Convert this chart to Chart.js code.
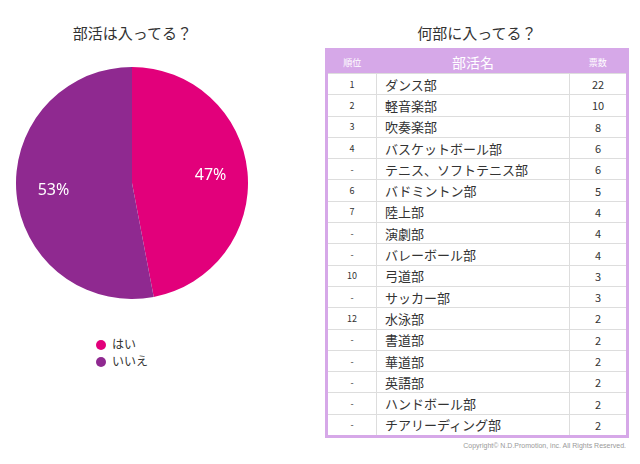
<!DOCTYPE html>
<html>
<head>
<meta charset="utf-8">
<script src="https://cdn.jsdelivr.net/npm/chart.js@4"></script>
<style>
body { margin: 0; width: 640px; height: 464px; background: #fff; font-family: "Noto Sans CJK JP", sans-serif; position: relative; overflow: hidden; }
#pieBox { position: absolute; left: 0; top: 0; width: 265px; height: 400px; }
.title { position: absolute; font-size: 15px; color: #333; text-align: center; }
#legend { position: absolute; left: 96px; top: 335px; font-size: 12px; color: #333; line-height: 17px; }
#legend span.dot { display: inline-block; width: 10px; height: 10px; border-radius: 50%; margin-right: 6px; vertical-align: -1px; }
table { position: absolute; left: 325px; top: 48px; width: 304px; border-collapse: collapse; border: 3px solid #d6a8e8; font-size: 13px; color: #333; }
th { background: #d6a8e8; color: #fff; font-weight: normal; height: 20px; font-size: 9px; }
th.name { font-size: 14px; }
td { border: 1px solid #ddd; height: 20.3px; padding: 0; }
td.rank { text-align: center; width: 48px; font-size: 9px; }
td.name { padding-left: 8px; }
td.votes { text-align: center; width: 56px; font-size: 11px; }
#copy { position: absolute; right: 14px; top: 442px; font-size: 7px; color: #999; font-family: "Liberation Sans", sans-serif; }
</style>
</head>
<body>
<div class="title" style="left:0;top:22px;width:265px;">部活は入ってる？</div>
<div class="title" style="left:325px;top:22px;width:304px;">何部に入ってる？</div>
<div id="pieBox"><canvas id="pie"></canvas></div>
<div id="legend"></div>
<table id="tbl"></table>
<div id="copy">Copyright© N.D.Promotion, inc. All Rights Reserved.</div>
<script>
const pieLabels = ["はい", "いいえ"];
const pieValues = [47, 53];
const pieColors = ["#e2007b", "#8f2990"];

const ranks = ["1", "2", "3", "4", "-", "6", "7", "-", "-", "10", "-", "12", "-", "-", "-", "-", "-"];
const clubs = ["ダンス部", "軽音楽部", "吹奏楽部", "バスケットボール部", "テニス、ソフトテニス部", "バドミントン部", "陸上部", "演劇部", "バレーボール部", "弓道部", "サッカー部", "水泳部", "書道部", "華道部", "英語部", "ハンドボール部", "チアリーディング部"];
const votes = [22, 10, 8, 6, 6, 5, 4, 4, 4, 3, 3, 2, 2, 2, 2, 2, 2];

function buildTable() {
	const table = document.getElementById("tbl");
	let html = "<tr><th>順位</th><th class='name'>部活名</th><th>票数</th></tr>";
	clubs.forEach((club, i) => {
		html += "<tr><td class='rank'>" + ranks[i] + "</td><td class='name'>" + club + "</td><td class='votes'>" + votes[i] + "</td></tr>";
	});
	table.innerHTML = html;
}

function buildLegend() {
	const legend = document.getElementById("legend");
	legend.innerHTML = pieLabels.map((label, i) =>
		"<div><span class='dot' style='background:" + pieColors[i] + "'></span>" + label + "</div>").join("");
}

const percentLabels = {
	id: "percentLabels",
	afterDatasetsDraw(chart) {
		const ctx = chart.ctx;
		const meta = chart.getDatasetMeta(0);
		ctx.save();
		ctx.fillStyle = "#fff";
		ctx.font = "16px 'Noto Sans', sans-serif";
		ctx.textAlign = "center";
		ctx.textBaseline = "middle";
		meta.data.forEach((arc, i) => {
			const mid = (arc.startAngle + arc.endAngle) / 2;
			const r = arc.outerRadius * 0.68;
			ctx.fillText(pieValues[i] + "%", arc.x + Math.cos(mid) * r, arc.y + Math.sin(mid) * r);
		});
		ctx.restore();
	}
};

function drawPie() {
	const canvas = document.getElementById("pie");
	canvas.style.position = "absolute";
	canvas.style.left = "16px";
	canvas.style.top = "67px";
	canvas.style.width = "232px";
	canvas.style.height = "232px";
	new Chart(canvas.getContext("2d"), {
		type: "pie",
		data: {
			labels: pieLabels,
			datasets: [{ data: pieValues, backgroundColor: pieColors, borderWidth: 0 }]
		},
		options: {
			responsive: false,
			animation: false,
			layout: { padding: 0 },
			plugins: { legend: { display: false }, tooltip: { enabled: false } }
		},
		plugins: [percentLabels]
	});
}

document.addEventListener("DOMContentLoaded", _ => {
	buildTable();
	buildLegend();
	drawPie();
});
</script>
</body>
</html>
